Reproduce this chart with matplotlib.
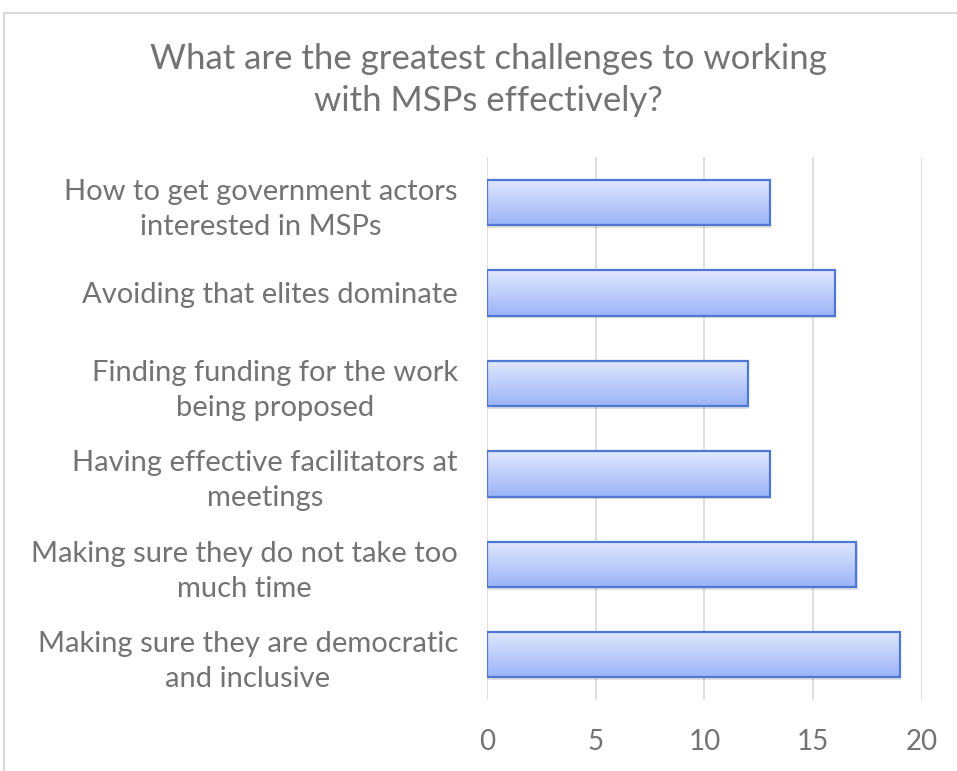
import numpy as np
import matplotlib.pyplot as plt
from matplotlib.patches import Rectangle

# data
labels = ['How to get government actors\ninterested in MSPs',
          'Avoiding that elites dominate',
          'Finding funding for the work\nbeing proposed',
          'Having effective facilitators at\nmeetings',
          'Making sure they do not take too\nmuch time',
          'Making sure they are democratic\nand inclusive']
values = [13, 16, 12, 13, 17, 19]
xticks = [0, 5, 10, 15, 20]

plt.rcParams['font.family'] = ['Lato', 'DejaVu Sans']
grey = '#737373'

fig = plt.figure(figsize=(9.57, 7.71), dpi=100)
ax = fig.add_axes([0.509, 0.092, 0.454, 0.704])

# outer chart frame
fig.patches.append(Rectangle((0.004, -0.01), 1.2, 0.993, transform=fig.transFigure,
                             fill=False, edgecolor='#d9d9d9', linewidth=1.5))

grad = np.linspace(0, 1, 64).reshape(-1, 1)
c_top = np.array([0xe0, 0xe8, 0xfd]) / 255
c_bot = np.array([0x9c, 0xb4, 0xf7]) / 255
img = c_top + grad[..., None] * (c_bot - c_top)

h = 0.5
y = np.arange(len(values))
for yi, v in zip(y, values):
    # soft shadow
    ax.add_patch(Rectangle((0.05, yi - h / 2 + 0.03), v, h, facecolor='#000000',
                           alpha=0.12, edgecolor='none', zorder=2))
    ax.imshow(img, extent=(0, v, yi + h / 2, yi - h / 2), aspect='auto', zorder=3)
    ax.add_patch(Rectangle((0, yi - h / 2), v, h, facecolor='none',
                           edgecolor='#4f78d6', linewidth=1.6, zorder=4))

ax.set_xlim(0, 20)
ax.set_ylim(len(values) - 0.5, -0.5)
ax.set_xticks(xticks)
ax.set_yticks(y)
ax.set_yticklabels(labels, multialignment='center', linespacing=1.42)
ax.grid(axis='x', color='#d9d9d9', linewidth=1.2, zorder=0)
ax.set_axisbelow(True)
for s in ax.spines.values():
    s.set_visible(False)
ax.tick_params(axis='x', length=0, labelsize=20, labelcolor=grey, pad=21)
ax.tick_params(axis='y', length=0, labelsize=21, labelcolor=grey, pad=21)

fig.text(0.51, 0.896, 'What are the greatest challenges to working\nwith MSPs effectively?',
         ha='center', va='center', fontsize=25, color=grey, linespacing=1.39)

plt.savefig('out.png', dpi=100)
